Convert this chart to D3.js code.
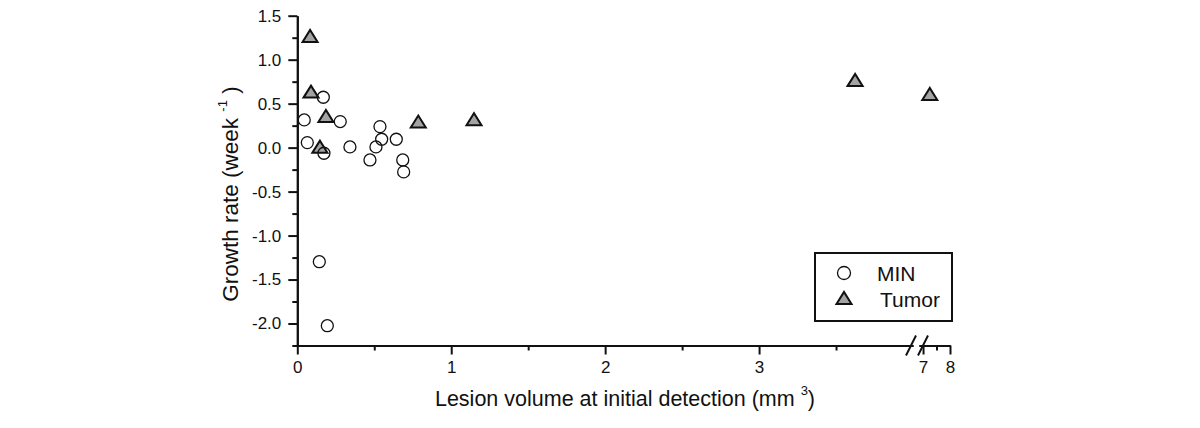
<!DOCTYPE html>
<html>
<head>
<meta charset="utf-8">
<script src="https://cdn.jsdelivr.net/npm/d3@7"></script>
<style>
  body { margin: 0; background: #fff; }
  text { font-family: "Liberation Sans", Arial, sans-serif; fill: #111; }
  .axis path, .axis line { stroke: #111; stroke-width: 2px; }
</style>
</head>
<body>
<svg id="chart" width="1200" height="428"></svg>
<script>
// values
var minX = [0.045, 0.065, 0.169, 0.173, 0.279, 0.342, 0.472, 0.511, 0.537, 0.548, 0.643, 0.685, 0.691, 0.143, 0.195];
var minY = [0.315, 0.057, 0.573, -0.064, 0.296, 0.008, -0.14, 0.008, 0.239, 0.095, 0.095, -0.14, -0.276, -1.297, -2.025];
var tumorX = [0.083, 0.089, 0.186, 0.147, 0.786, 1.148, 3.624, 7.25];
var tumorY = [1.27, 0.637, 0.36, 0.011, 0.296, 0.323, 0.77, 0.61];

var xTicksLeft = [0, 1, 2, 3];
var xMinorLeft = [0.5, 1.5, 2.5, 3.5];
var xTicksRight = [7, 8];
var xMinorRight = [7.5];
var yTicks = [-2, -1.5, -1, -0.5, 0, 0.5, 1, 1.5];
var yMinor = [-2.25, -1.75, -1.25, -0.75, -0.25, 0.25, 0.75, 1.25];
var legendNames = ["MIN", "Tumor"];

var svg = d3.select("#chart");

// broken x axis: two linear pieces
var xLeft = d3.scaleLinear().domain([0, 4]).range([297.3, 913]);
var xRight = d3.scaleLinear().domain([6.85, 8]).range([919, 950]);
function xPos(v) { return v > 5 ? xRight(v) : xLeft(v); }

var y = d3.scaleLinear().domain([-2.25, 1.5]).range([345.5, 15.7]);
var axisY = 345.5;

var fmt = function(d) { return d.toFixed(1); };

// y axis
svg.append("g").attr("class", "axis")
    .attr("transform", "translate(297.3,0)")
    .call(d3.axisLeft(y).tickValues(yMinor).tickSize(5).tickSizeOuter(0).tickFormat(""));
svg.append("g").attr("class", "axis")
    .attr("transform", "translate(297.3,0)")
    .call(d3.axisLeft(y).tickValues(yTicks).tickSize(9).tickSizeOuter(0).tickFormat(fmt).tickPadding(7));

// x axis left piece
svg.append("g").attr("class", "axis")
    .attr("transform", "translate(0," + axisY + ")")
    .call(d3.axisBottom(xLeft).tickValues(xMinorLeft).tickSize(5).tickSizeOuter(0).tickFormat(""));
svg.append("g").attr("class", "axis")
    .attr("transform", "translate(0," + axisY + ")")
    .call(d3.axisBottom(xLeft).tickValues(xTicksLeft).tickSize(9).tickSizeOuter(0).tickFormat(d3.format("d")).tickPadding(6));

// x axis right piece
svg.append("g").attr("class", "axis")
    .attr("transform", "translate(0," + axisY + ")")
    .call(d3.axisBottom(xRight).tickValues(xMinorRight).tickSize(5).tickSizeOuter(0).tickFormat(""));
svg.append("g").attr("class", "axis")
    .attr("transform", "translate(0," + axisY + ")")
    .call(d3.axisBottom(xRight).tickValues(xTicksRight).tickSize(9).tickSizeOuter(0).tickFormat(d3.format("d")).tickPadding(6));
svg.selectAll(".axis text").attr("font-size", "17px").attr("font-family", "Liberation Sans, Arial, sans-serif");

// break marks
svg.append("g").selectAll("line")
    .data([xLeft(4) - 7, xRight(6.85) - 1])
    .enter().append("line")
    .attr("x1", function(d) { return d; })
    .attr("y1", axisY + 10)
    .attr("x2", function(d) { return d + 10; })
    .attr("y2", axisY - 10)
    .attr("stroke", "#111").attr("stroke-width", 2);

// markers
function triPath(cx, cy, w, h) {
    return "M" + (cx - w / 2) + "," + (cy + h / 2) + "L" + cx + "," + (cy - h / 2) + "L" + (cx + w / 2) + "," + (cy + h / 2) + "Z";
}

svg.append("g").selectAll("path")
    .data(tumorX)
    .enter().append("path")
    .attr("d", function(d, i) { return triPath(xPos(d), y(tumorY[i]), 15, 12); })
    .attr("fill", "#a3a3a3").attr("stroke", "#111").attr("stroke-width", 2)
    .attr("stroke-linejoin", "miter");

svg.append("g").selectAll("circle")
    .data(minX)
    .enter().append("circle")
    .attr("cx", function(d) { return xPos(d); })
    .attr("cy", function(d, i) { return y(minY[i]); })
    .attr("r", 6)
    .attr("fill", "none").attr("stroke", "#111").attr("stroke-width", 1.3);

// axis titles
var xt = svg.append("text")
    .attr("x", 625).attr("y", 406)
    .attr("text-anchor", "middle").attr("font-size", "21.5px");
xt.append("tspan").text("Lesion volume at initial detection (mm ");
xt.append("tspan").text("3").attr("font-size", "13px").attr("dy", -11);
xt.append("tspan").text(")").attr("dy", 11);

var yt = svg.append("text")
    .attr("transform", "translate(238,194) rotate(-90)")
    .attr("text-anchor", "middle").attr("font-size", "22.5px");
yt.append("tspan").text("Growth rate (week ");
yt.append("tspan").text("-1").attr("font-size", "13px").attr("dy", -11);
yt.append("tspan").text(" )").attr("dy", 11);

// legend
var lg = svg.append("g");
lg.append("rect")
    .attr("x", 815).attr("y", 253).attr("width", 137).attr("height", 68)
    .attr("fill", "#fff").attr("stroke", "#111").attr("stroke-width", 2);
lg.append("circle").attr("cx", 844).attr("cy", 273).attr("r", 6.5)
    .attr("fill", "none").attr("stroke", "#111").attr("stroke-width", 1.3);
lg.append("path").attr("d", triPath(844, 298, 15, 12))
    .attr("fill", "#a3a3a3").attr("stroke", "#111").attr("stroke-width", 2);
lg.selectAll("text.leg")
    .data(legendNames)
    .enter().append("text")
    .attr("class", "leg")
    .attr("x", function(d, i) { return i === 0 ? 877 : 880; })
    .attr("y", function(d, i) { return 281 + i * 26; })
    .attr("font-size", "21px")
    .text(function(d) { return d; });
</script>
</body>
</html>
